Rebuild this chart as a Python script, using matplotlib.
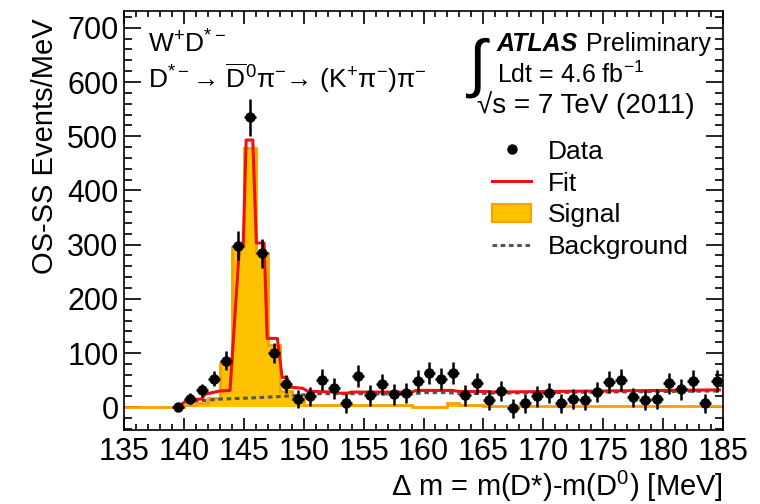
import numpy as np
import matplotlib
matplotlib.use("Agg")
import matplotlib.pyplot as plt
from matplotlib.lines import Line2D
from matplotlib.patches import Patch
from matplotlib.ticker import MultipleLocator

plt.rcParams['font.family'] = ['Liberation Sans', 'DejaVu Sans']
plt.rcParams['mathtext.fontset'] = 'custom'
plt.rcParams['mathtext.rm'] = 'Liberation Sans'
plt.rcParams['mathtext.it'] = 'Liberation Sans:italic'
plt.rcParams['mathtext.bf'] = 'Liberation Sans:bold'

# data points, 1 MeV bins from 139.5 to 184.5
data_counts = [0, 16, 31, 53, 86, 298, 535, 284, 100, 43,
               15, 20, 51, 35, 7, 57, 22, 42, 24, 26,
               48, 63, 52, 63, 22, 44, 13, 30, -2, 7,
               20, 26, 7, 15, 13, 28, 46, 50, 18, 13,
               15, 44, 33, 48, 7, 48]
data_err = [5, 10, 12, 14, 17, 27, 34, 27, 19, 17,
            17, 18, 20, 19, 18, 20, 19, 20, 19, 19,
            20, 21, 20, 21, 19, 20, 18, 19, 18, 18,
            19, 19, 18, 18, 18, 19, 20, 20, 18, 18,
            18, 20, 19, 20, 18, 20]
data_x = np.arange(139.5, 185, 1.0)

# signal histogram, edges 135..185
sig_edges = np.arange(135, 186, 1)
signal = [0, 0, 0, 0, 0, 5, 7, 17, 81, 296,
          478, 284, 115, 30, 15, 4, 4, 4, 4, 4,
          4, 4, 4, 4, 1, 1, 1, 7, 4, 4,
          2, 2, 2, 2, 2, 2, 2, 2, 2, 2,
          2, 2, 2, 2, 2, 2, 2, 2, 2, 2]

# fit curve
fit_x = [139.5, 140.3, 141.5, 141.75, 143.0, 143.85, 144.65, 144.95, 145.2, 145.75,
         146.05, 146.7, 146.95, 147.8, 148.2, 148.6, 148.9, 149.9, 150.3, 151.0,
         152.5, 153.0, 153.7, 154.0, 159.0, 159.4, 162.4, 163.0, 165.2, 166.0,
         170.0, 175.0, 180.0, 184.7]
fit_y = [0, 14, 15, 24, 30, 31, 300, 300, 493, 493,
         303, 303, 127, 127, 55, 55, 37, 35, 30, 29,
         28, 26, 26, 28, 28, 31, 31, 29, 29, 28,
         29, 30, 31, 32]

# background curve
bkg_x = [139.6, 140.0, 140.5, 142.0, 143.0, 145.5, 148.2, 149.5, 151.0, 155.0,
         159.0, 160.0, 162.0, 163.0, 166.0, 170.0, 175.0, 180.0, 184.7]
bkg_y = [0, 8, 11, 13, 15, 17, 20, 22, 25, 25,
         24, 27, 27, 25, 26, 27, 28, 29, 30]

fig = plt.figure(figsize=(7.6, 5.04), dpi=100)
ax = fig.add_axes([124/760, 1 - 430/504, 599/760, 419/504])

orange_fill = '#ffc200'
orange_edge = '#f7a000'
red = '#ee1111'
ax.stairs(signal, sig_edges, fill=True, color=orange_fill, zorder=1)
ax.stairs(signal, sig_edges, fill=False, color=orange_edge, lw=2, zorder=2)
ax.plot(bkg_x, bkg_y, color='#555555', lw=2.2, ls=(0, (1.5, 1.2)), zorder=3)
ax.plot(fit_x, fit_y, color=red, lw=2.2, zorder=4)
ax.errorbar(data_x, data_counts, yerr=data_err, xerr=0.5, fmt='o', color='black',
            ms=6.5, elinewidth=1.8, capsize=0, zorder=5)

ax.set_xlim(135, 185)
ax.set_ylim(-42, 731)
ax.xaxis.set_major_locator(MultipleLocator(5))
ax.xaxis.set_minor_locator(MultipleLocator(1))
ax.yaxis.set_major_locator(MultipleLocator(100))
ax.yaxis.set_minor_locator(MultipleLocator(20))
ax.tick_params(which='both', direction='in', top=True, right=True, labelsize=22, width=1.2)
ax.tick_params(axis='x', which='major', length=9, pad=5)
ax.tick_params(axis='x', which='minor', length=4.5)
ax.tick_params(axis='y', which='major', length=12, pad=4)
ax.tick_params(axis='y', which='minor', length=6)
for s in ax.spines.values():
    s.set_linewidth(1.2)

fig.text(45/760, 1 - 18/504, 'OS-SS Events/MeV', rotation=90, ha='center', va='top', fontsize=21)
fig.text(723/760, 1 - 486/504, r'$\Delta$ m = m(D*)-m(D$^{0}$) [MeV]', ha='right', va='center', fontsize=21)

fig.text(148/760, 1 - 44/504, r'W$^{+}$D$^{*-}$', fontsize=19, va='center')
fig.text(148/760, 1 - 78/504,
         r'D$^{*-}$→ $\overline{\mathrm{D}}^{0}$π$^{-}$→ (K$^{+}$π$^{-}$)π$^{-}$',
         fontsize=19, va='center')

fig.text(468/760, 1 - 68/504, '∫', fontsize=46, va='center', ha='left')
fig.text(497/760, 1 - 44/504, 'ATLAS', fontsize=18, fontweight='bold', fontstyle='italic', va='center')
fig.text(586/760, 1 - 44/504, 'Preliminary', fontsize=18, va='center')
fig.text(497/760, 1 - 75/504, r'Ldt = 4.6 fb$^{-1}$', fontsize=18, va='center')
fig.text(477/760, 1 - 105/504, '√s = 7 TeV (2011)', fontsize=20, va='center')

handles = [
    Line2D([], [], marker='o', color='black', ls='none', ms=6.5),
    Line2D([], [], color=red, lw=2.2),
    Patch(facecolor=orange_fill, edgecolor=orange_edge, lw=1.5),
    Line2D([], [], color='#555555', lw=2.2, ls=(0, (1.5, 1.2))),
]
labels = ['Data', 'Fit', 'Signal', 'Background']
ax.legend(handles, labels, loc='upper left', bbox_to_anchor=(0.615, 0.693), frameon=False,
          fontsize=19, handlelength=1.45, handletextpad=0.65, labelspacing=0.3,
          borderaxespad=0, borderpad=0)

fig.savefig('out.png', dpi=100)
